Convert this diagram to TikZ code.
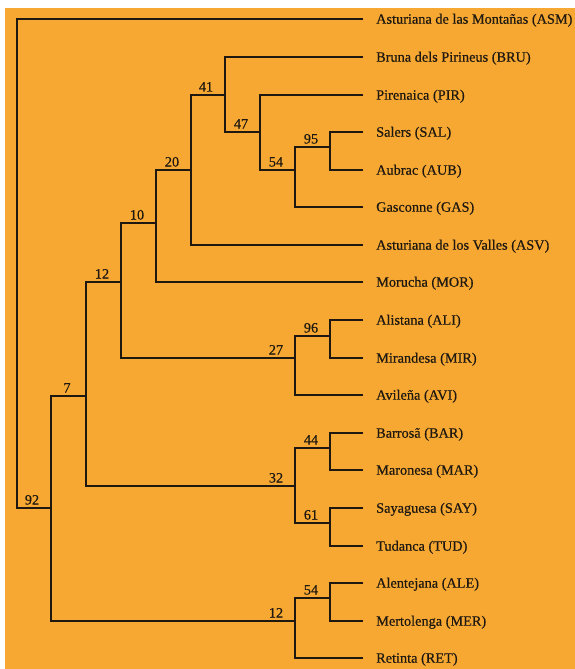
\documentclass[tikz,border=0pt]{standalone}
\usepackage{fontspec}
\setmainfont{Liberation Serif}
\newfontfamily\treefont[FakeBold=0.5]{Liberation Serif}
\definecolor{bgorange}{RGB}{247,168,51}
\definecolor{inkdark}{RGB}{30,24,16}
\begin{document}
\begin{tikzpicture}[x=1pt,y=-1pt,
  edge/.style={line width=1.9pt, line join=miter, draw=inkdark},
  leaflabel/.style={anchor=base west, inner sep=0pt, text=inkdark, font=\treefont\fontsize{14.3}{16}\selectfont},
  support/.style={anchor=base, inner sep=0pt, text=inkdark, font=\treefont\fontsize{14.3}{16}\selectfont}]
\useasboundingbox (0,0) rectangle (575,669);
\fill[bgorange] (5,8) rectangle (575,669);
% leaf line ends
\foreach \nm/\yy in {ASM/19,BRU/57,PIR/95,SAL/132,AUB/170,GAS/207,ASV/245,MOR/282,ALI/320,MIR/358,AVI/395,BAR/433,MAR/470,SAY/508,TUD/546,ALE/583,MER/621,RET/658}
  \coordinate (\nm) at (363,\yy);
% leaf labels
\node[leaflabel] (tASM) at ([shift={(13,4.7)}]ASM) {Asturiana de las Montañas (ASM)};
\node[leaflabel] (tBRU) at ([shift={(13,4.7)}]BRU) {Bruna dels Pirineus (BRU)};
\node[leaflabel] (tPIR) at ([shift={(13,4.7)}]PIR) {Pirenaica (PIR)};
\node[leaflabel] (tSAL) at ([shift={(13,4.7)}]SAL) {Salers (SAL)};
\node[leaflabel] (tAUB) at ([shift={(13,4.7)}]AUB) {Aubrac (AUB)};
\node[leaflabel] (tGAS) at ([shift={(13,4.7)}]GAS) {Gasconne (GAS)};
\node[leaflabel] (tASV) at ([shift={(13,4.7)}]ASV) {Asturiana de los Valles (ASV)};
\node[leaflabel] (tMOR) at ([shift={(13,4.7)}]MOR) {Morucha (MOR)};
\node[leaflabel] (tALI) at ([shift={(13,4.7)}]ALI) {Alistana (ALI)};
\node[leaflabel] (tMIR) at ([shift={(13,4.7)}]MIR) {Mirandesa (MIR)};
\node[leaflabel] (tAVI) at ([shift={(13,4.7)}]AVI) {Avileña (AVI)};
\node[leaflabel] (tBAR) at ([shift={(13,4.7)}]BAR) {Barrosã (BAR)};
\node[leaflabel] (tMAR) at ([shift={(13,4.7)}]MAR) {Maronesa (MAR)};
\node[leaflabel] (tSAY) at ([shift={(13,4.7)}]SAY) {Sayaguesa (SAY)};
\node[leaflabel] (tTUD) at ([shift={(13,4.7)}]TUD) {Tudanca (TUD)};
\node[leaflabel] (tALE) at ([shift={(13,4.7)}]ALE) {Alentejana (ALE)};
\node[leaflabel] (tMER) at ([shift={(13,4.7)}]MER) {Mertolenga (MER)};
\node[leaflabel] (tRET) at ([shift={(13,4.7)}]RET) {Retinta (RET)};
% internal nodes
\coordinate (root) at (17,508);
\coordinate (n92) at (51,508);
\coordinate (n7) at (86,396);
\coordinate (n12) at (121,282);
\coordinate (n10) at (156,223);
\coordinate (n20) at (191,170);
\coordinate (n41) at (225,95);
\coordinate (n47) at (260,132);
\coordinate (n54) at (295,170);
\coordinate (n95) at (330,147);
\coordinate (n27) at (295,358);
\coordinate (n96) at (330,336);
\coordinate (n32) at (295,486);
\coordinate (n44) at (330,448);
\coordinate (n61) at (330,523);
\coordinate (n12b) at (295,621);
\coordinate (n54b) at (330,598);
% connectors
\draw[edge] (ASM) -| (root) -- (n92);
\draw[edge] (n7) -| (n92) |- (n12b);
\draw[edge] (n12) -| (n7) |- (n32);
\draw[edge] (n10) -| (n12) |- (n27);
\draw[edge] (n20) -| (n10) |- (MOR);
\draw[edge] (n41) -| (n20) |- (ASV);
\draw[edge] (BRU) -| (n41) |- (n47);
\draw[edge] (PIR) -| (n47) |- (n54);
\draw[edge] (n95) -| (n54) |- (GAS);
\draw[edge] (SAL) -| (n95) |- (AUB);
\draw[edge] (n96) -| (n27) |- (AVI);
\draw[edge] (ALI) -| (n96) |- (MIR);
\draw[edge] (n44) -| (n32) |- (n61);
\draw[edge] (BAR) -| (n44) |- (MAR);
\draw[edge] (SAY) -| (n61) |- (TUD);
\draw[edge] (n54b) -| (n12b) |- (RET);
\draw[edge] (ALE) -| (n54b) |- (MER);
% support values
\foreach \c/\v in {n92/92,n7/7,n12/12,n10/10,n20/20,n41/41,n47/47,n54/54,n95/95,n27/27,n96/96,n32/32,n44/44,n61/61,n12b/12,n54b/54}
  \node[support] (s\c) at ([shift={(-19,-3.5)}]\c) {\v};
\end{tikzpicture}
\end{document}
